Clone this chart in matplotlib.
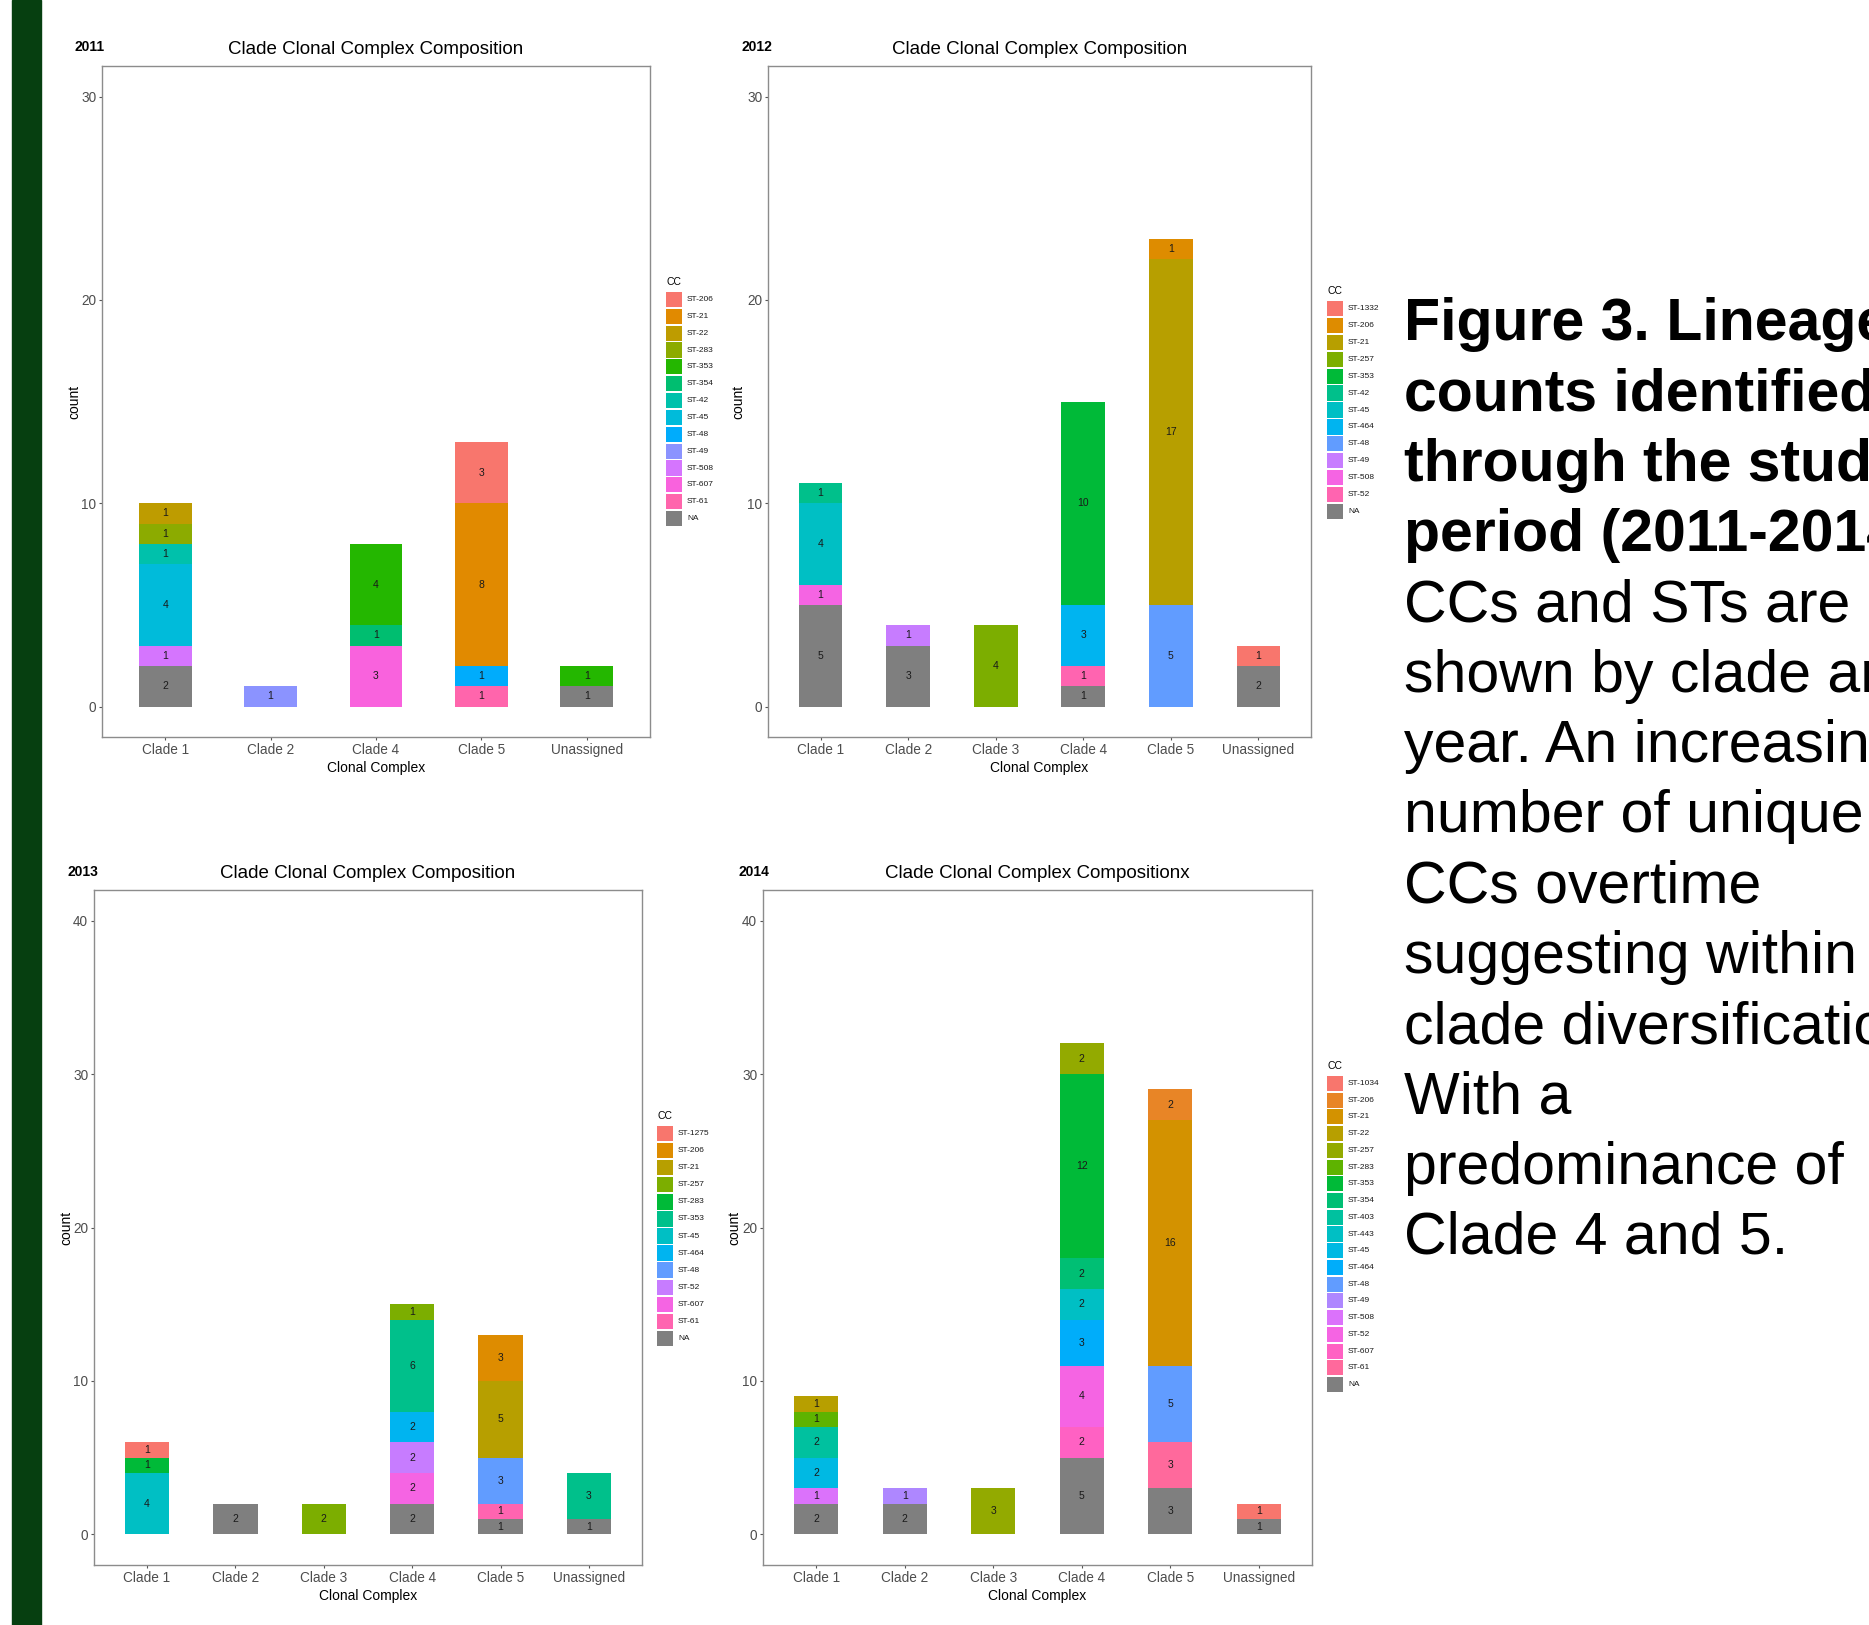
import numpy as np
import matplotlib
matplotlib.use("Agg")
import matplotlib.pyplot as plt

plt.rcParams['font.family'] = ['Liberation Sans', 'DejaVu Sans']

W, H = 1869, 1625

# ---- data: rows follow the CC legend order, columns follow the clades ----
clades_2011 = ["Clade 1", "Clade 2", "Clade 4", "Clade 5", "Unassigned"]
cc_2011 = ["ST-206", "ST-21", "ST-22", "ST-283", "ST-353", "ST-354", "ST-42",
           "ST-45", "ST-48", "ST-49", "ST-508", "ST-607", "ST-61", "NA"]
counts_2011 = [
    [0, 0, 0, 3, 0],
    [0, 0, 0, 8, 0],
    [1, 0, 0, 0, 0],
    [1, 0, 0, 0, 0],
    [0, 0, 4, 0, 1],
    [0, 0, 1, 0, 0],
    [1, 0, 0, 0, 0],
    [4, 0, 0, 0, 0],
    [0, 0, 0, 1, 0],
    [0, 1, 0, 0, 0],
    [1, 0, 0, 0, 0],
    [0, 0, 3, 0, 0],
    [0, 0, 0, 1, 0],
    [2, 0, 0, 0, 1],
]

clades_2012 = ["Clade 1", "Clade 2", "Clade 3", "Clade 4", "Clade 5", "Unassigned"]
cc_2012 = ["ST-1332", "ST-206", "ST-21", "ST-257", "ST-353", "ST-42", "ST-45",
           "ST-464", "ST-48", "ST-49", "ST-508", "ST-52", "NA"]
counts_2012 = [
    [0, 0, 0, 0, 0, 1],
    [0, 0, 0, 0, 1, 0],
    [0, 0, 0, 0, 17, 0],
    [0, 0, 4, 0, 0, 0],
    [0, 0, 0, 10, 0, 0],
    [1, 0, 0, 0, 0, 0],
    [4, 0, 0, 0, 0, 0],
    [0, 0, 0, 3, 0, 0],
    [0, 0, 0, 0, 5, 0],
    [0, 1, 0, 0, 0, 0],
    [1, 0, 0, 0, 0, 0],
    [0, 0, 0, 1, 0, 0],
    [5, 3, 0, 1, 0, 2],
]

clades_2013 = ["Clade 1", "Clade 2", "Clade 3", "Clade 4", "Clade 5", "Unassigned"]
cc_2013 = ["ST-1275", "ST-206", "ST-21", "ST-257", "ST-283", "ST-353", "ST-45",
           "ST-464", "ST-48", "ST-52", "ST-607", "ST-61", "NA"]
counts_2013 = [
    [1, 0, 0, 0, 0, 0],
    [0, 0, 0, 0, 3, 0],
    [0, 0, 0, 0, 5, 0],
    [0, 0, 2, 1, 0, 0],
    [1, 0, 0, 0, 0, 0],
    [0, 0, 0, 6, 0, 3],
    [4, 0, 0, 0, 0, 0],
    [0, 0, 0, 2, 0, 0],
    [0, 0, 0, 0, 3, 0],
    [0, 0, 0, 2, 0, 0],
    [0, 0, 0, 2, 0, 0],
    [0, 0, 0, 0, 1, 0],
    [0, 2, 0, 2, 1, 1],
]

clades_2014 = ["Clade 1", "Clade 2", "Clade 3", "Clade 4", "Clade 5", "Unassigned"]
cc_2014 = ["ST-1034", "ST-206", "ST-21", "ST-22", "ST-257", "ST-283", "ST-353",
           "ST-354", "ST-403", "ST-443", "ST-45", "ST-464", "ST-48", "ST-49",
           "ST-508", "ST-52", "ST-607", "ST-61", "NA"]
counts_2014 = [
    [0, 0, 0, 0, 0, 1],
    [0, 0, 0, 0, 2, 0],
    [0, 0, 0, 0, 16, 0],
    [1, 0, 0, 0, 0, 0],
    [0, 0, 3, 2, 0, 0],
    [1, 0, 0, 0, 0, 0],
    [0, 0, 0, 12, 0, 0],
    [0, 0, 0, 2, 0, 0],
    [2, 0, 0, 0, 0, 0],
    [0, 0, 0, 2, 0, 0],
    [2, 0, 0, 0, 0, 0],
    [0, 0, 0, 3, 0, 0],
    [0, 0, 0, 0, 5, 0],
    [0, 1, 0, 0, 0, 0],
    [1, 0, 0, 0, 0, 0],
    [0, 0, 0, 4, 0, 0],
    [0, 0, 0, 2, 0, 0],
    [0, 0, 0, 0, 3, 0],
    [2, 2, 0, 5, 3, 1],
]

bold_lines = ["Figure 3. Lineage", "counts identified", "through the study",
              "period (2011-2014)"]
body_lines = ["CCs and STs are", "shown by clade and", "year. An increasing",
              "number of unique", "CCs overtime", "suggesting within",
              "clade diversification.", "With a", "predominance of",
              "Clade 4 and 5."]


def hue_pal(n, c=100, l=65):
    # ggplot2 default discrete palette (polar LUV -> sRGB)
    hues = np.linspace(15, 375, n + 1)[:n]
    Xn, Yn, Zn = 95.047, 100.0, 108.883
    un = 4 * Xn / (Xn + 15 * Yn + 3 * Zn)
    vn = 9 * Yn / (Xn + 15 * Yn + 3 * Zn)
    M = np.array([[3.240479, -1.537150, -0.498535],
                  [-0.969256, 1.875992, 0.041556],
                  [0.055648, -0.204043, 1.057311]])
    out = []
    for h in hues:
        r = np.deg2rad(h)
        u, v = c * np.cos(r), c * np.sin(r)
        Y = Yn * ((l + 16) / 116) ** 3
        up = u / (13 * l) + un
        vp = v / (13 * l) + vn
        X = 9 * Y * up / (4 * vp)
        Z = -X / 3 - 5 * Y + 3 * Y / vp
        rgb = M @ (np.array([X, Y, Z]) / 100)
        rgb = np.where(rgb > 0.00304,
                       1.055 * np.power(np.maximum(rgb, 0), 1 / 2.4) - 0.055,
                       12.92 * rgb)
        out.append(tuple(np.clip(rgb, 0, 1)))
    return out


def fx(x):
    return x / W


def fy(y):
    return 1 - y / H


def panel(fig, box, clades, cc, counts, ymax, year, title, ylab_x, leg):
    left, top, right, bottom = box
    ax = fig.add_axes([fx(left), fy(bottom), fx(right - left), (bottom - top) / H])
    colors = hue_pal(len(cc) - 1) + ["#7F7F7F"]
    x = np.arange(1, len(clades) + 1)
    base = np.zeros(len(clades))
    for i in range(len(cc) - 1, -1, -1):
        vals = np.array(counts[i], dtype=float)
        ax.bar(x, vals, bottom=base, width=0.5, color=colors[i], linewidth=0)
        for xi, b, v in zip(x, base, vals):
            if v > 0:
                ax.text(xi, b + v / 2, str(int(v)), ha="center", va="center",
                        fontsize=7.5, color="#1a1a1a")
        base += vals

    ax.set_xlim(0.4, len(clades) + 0.6)
    ax.set_ylim(-0.05 * ymax, 1.05 * ymax)
    ax.set_xticks(x)
    ax.set_xticklabels(clades)
    ax.set_yticks(np.arange(0, ymax + 1, 10))
    ax.tick_params(length=2.2, width=0.8, color="#555555", labelsize=9.8,
                   labelcolor="#4d4d4d", pad=2)
    for s in ax.spines.values():
        s.set_color("#8c8c8c")
        s.set_linewidth(1.0)

    cx = (left + right) / 2
    fig.text(fx(cx), fy(top - 16), title, ha="center", va="center", fontsize=13.5)
    fig.text(fx(year[0]), fy(year[1]), year[2], ha="left", va="center",
             fontsize=10, fontweight="bold")
    fig.text(fx(ylab_x), fy((top + bottom) / 2), "count", rotation=90,
             ha="center", va="center", fontsize=10)
    fig.text(fx(cx), fy(bottom + 31), "Clonal Complex", ha="center",
             va="center", fontsize=10)

    # legend
    kx, ktop, kbot = leg
    n = len(cc)
    lax = fig.add_axes([fx(kx), fy(kbot), fx(15.7), (kbot - ktop) / H])
    lax.barh(np.arange(n), 1, height=0.9, left=0, color=colors)
    lax.set_xlim(0, 1)
    lax.set_ylim(n - 0.5, -0.5)
    lax.axis("off")
    for i, lab in enumerate(cc):
        lax.text(1.34, i, lab, ha="left", va="center", fontsize=6,
                 color="#1a1a1a", clip_on=False)
    fig.text(fx(kx), fy(ktop - 9), "CC", ha="left", va="center", fontsize=7.5)
    return ax


fig = plt.figure(figsize=(W / 100, H / 100), dpi=100)

# dark green side strip
fig.patches.append(plt.Rectangle((fx(12), 0), fx(29), 1, transform=fig.transFigure,
                                 color="#063f10", zorder=0))

panel(fig, (102, 66, 650, 737), clades_2011, cc_2011, counts_2011, 30,
      (74, 47, "2011"), "Clade Clonal Complex Composition", 74, (666, 291, 527))
panel(fig, (768, 66, 1311, 737), clades_2012, cc_2012, counts_2012, 30,
      (741, 47, "2012"), "Clade Clonal Complex Composition", 738, (1327, 300, 520))
panel(fig, (94, 890, 642, 1565), clades_2013, cc_2013, counts_2013, 40,
      (68, 872, "2013"), "Clade Clonal Complex Composition", 66, (657, 1125, 1347))
panel(fig, (763, 890, 1312, 1565), clades_2014, cc_2014, counts_2014, 40,
      (738, 872, "2014"), "Clade Clonal Complex Compositionx", 734, (1327, 1075, 1393))

# caption on the right, cut off by the figure edge as in the source slide
y0, step = 340, 70.3
for i, line in enumerate(bold_lines + body_lines):
    fig.text(fx(1404), fy(y0 + i * step), line, ha="left", va="baseline",
             fontsize=42.5, fontweight="bold" if i < len(bold_lines) else "normal",
             color="black")

fig.savefig("out.png", dpi=100)
